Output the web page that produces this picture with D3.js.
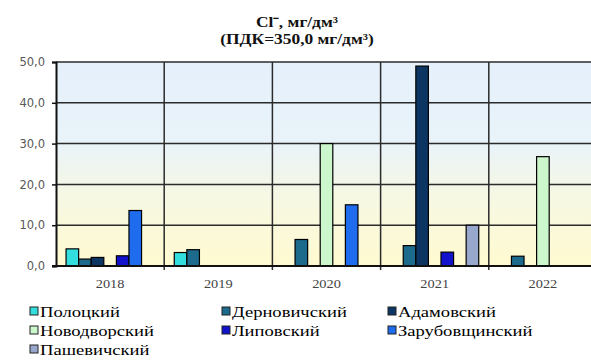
<!DOCTYPE html>
<html>
<head>
<meta charset="utf-8">
<script src="https://cdn.jsdelivr.net/npm/d3@7/dist/d3.min.js"></script>
<style>
  html, body { margin: 0; padding: 0; background: #ffffff; }
  svg { display: block; }
</style>
</head>
<body>
<svg id="chart" width="591" height="363"></svg>
<script>
// Chloride concentration by monitoring site, mg/dm³
const years = ["2018", "2019", "2020", "2021", "2022"];
const seriesNames = ["Полоцкий", "Дерновичский", "Адамовский", "Новодворский", "Липовский", "Зарубовщинский", "Пашевичский"];
const polotsky      = [4.2, 3.3, null, null, null];
const dernovichsky  = [1.7, 4.0, 6.5, 5.0, 2.4];
const adamovsky     = [2.1, null, null, 49.0, null];
const novodvorsky   = [null, null, 30.0, null, 26.8];
const lipovsky      = [2.5, null, null, 3.4, null];
const zarubovshchinsky = [13.6, null, 15.0, null, null];
const pashevichsky  = [null, null, null, 10.0, null];
const yTicks = [0, 10, 20, 30, 40, 50];
const titleLines = ["Cl⁻, мг/дм³", "(ПДК=350,0 мг/дм³)"];

const seriesValues = [polotsky, dernovichsky, adamovsky, novodvorsky, lipovsky, zarubovshchinsky, pashevichsky];
const colors = ["#33dede", "#1d6b8c", "#0c3563", "#ccf7cc", "#1212cc", "#1f6cef", "#98a8cc"];

const svg = d3.select("#chart");

// text is drawn slightly wide, as in the original layout
function wideText(sel, x, y, sx) {
  return sel.attr("transform", `translate(${x},${y}) scale(${sx},1)`);
}

const plot = { left: 56, top: 62, right: 597, bottom: 266 };

const x = d3.scaleBand().domain(years).range([plot.left, plot.right]);
const xs = d3.scaleBand().domain(seriesNames).range([0, x.bandwidth()]).paddingOuter(0.8).paddingInner(0);
const y = d3.scaleLinear().domain([0, 50]).range([plot.bottom, plot.top]);

// plot background: pale blue at the top fading to pale yellow at the base
const defs = svg.append("defs");
const grad = defs.append("linearGradient").attr("id", "bg").attr("x1", 0).attr("y1", 0).attr("x2", 0).attr("y2", 1);
grad.append("stop").attr("offset", "0%").attr("stop-color", "#e5f0fc");
grad.append("stop").attr("offset", "40%").attr("stop-color", "#e9f3f9");
grad.append("stop").attr("offset", "65%").attr("stop-color", "#f6f8e4");
grad.append("stop").attr("offset", "100%").attr("stop-color", "#fffad0");

svg.append("rect")
  .attr("x", plot.left).attr("y", plot.top)
  .attr("width", plot.right - plot.left).attr("height", plot.bottom - plot.top)
  .attr("fill", "url(#bg)");

// horizontal gridlines
svg.append("g").selectAll("line").data(yTicks.filter(d => d > 0)).join("line")
  .attr("x1", plot.left).attr("x2", plot.right)
  .attr("y1", d => y(d)).attr("y2", d => y(d))
  .attr("stroke", "#2b2b2b").attr("stroke-width", 1.5);

// vertical gridlines between categories (extend below the axis as ticks)
svg.append("g").selectAll("line").data(years.slice(1)).join("line")
  .attr("x1", d => x(d)).attr("x2", d => x(d))
  .attr("y1", plot.top).attr("y2", plot.bottom + 4)
  .attr("stroke", "#2b2b2b").attr("stroke-width", 1.5);

// bars
const groups = svg.append("g").selectAll("g").data(years).join("g")
  .attr("transform", d => `translate(${x(d)},0)`);
groups.selectAll("rect")
  .data((yr, i) => seriesNames.map((s, j) => ({ s, j, v: seriesValues[j][i] })).filter(d => d.v != null))
  .join("rect")
  .attr("x", d => xs(d.s))
  .attr("width", xs.bandwidth())
  .attr("y", d => y(d.v))
  .attr("height", d => y(0) - y(d.v))
  .attr("fill", d => colors[d.j])
  .attr("stroke", "#000")
  .attr("stroke-width", 1.2);

// y axis
const yAxis = d3.axisLeft(y).tickValues(yTicks).tickSize(4).tickFormat(d => d3.format(".1f")(d).replace(".", ","));
const yg = svg.append("g").attr("transform", `translate(${plot.left},0)`).call(yAxis);
yg.select(".domain").attr("stroke", "#111").attr("stroke-width", 2);
yg.selectAll(".tick line").attr("stroke", "#111").attr("stroke-width", 1.5);
yg.selectAll(".tick text")
  .attr("x", -11)
  .attr("font-family", "DejaVu Sans, sans-serif").attr("font-size", 11.5)
  .attr("fill", "#585858");

// x axis baseline
svg.append("line")
  .attr("x1", plot.left - 4).attr("x2", plot.right)
  .attr("y1", y(0)).attr("y2", y(0))
  .attr("stroke", "#111").attr("stroke-width", 2);

// category labels
svg.append("g").selectAll("text").data(years).join("text")
  .each(function (d) { wideText(d3.select(this), x(d) + x.bandwidth() / 2, 288, 1.15); })
  .attr("text-anchor", "middle")
  .attr("font-family", "Liberation Serif, Times New Roman, serif").attr("font-size", 12.5)
  .attr("fill", "#444")
  .text(d => d);

// title
svg.append("g").selectAll("text").data(titleLines).join("text")
  .each(function (d, i) { wideText(d3.select(this), 297, 27 + i * 17, 1.2); })
  .attr("text-anchor", "middle")
  .attr("font-family", "Liberation Serif, Times New Roman, serif").attr("font-weight", "bold")
  .attr("font-size", 14.5).attr("fill", "#111")
  .text(d => d);

// legend: three columns
const legCols = [30, 222, 388];
const legRows = [312, 331, 350];
const leg = svg.append("g").selectAll("g").data(seriesNames).join("g")
  .attr("transform", (d, i) => `translate(${legCols[i % 3]},${legRows[Math.floor(i / 3)]})`);
leg.append("rect")
  .attr("x", 0).attr("y", -5).attr("width", 8).attr("height", 8)
  .attr("fill", (d, i) => colors[i]).attr("stroke", "#222").attr("stroke-width", 1);
leg.append("text")
  .each(function () { wideText(d3.select(this), 10, 5, 1.24); })
  .attr("font-family", "Liberation Serif, Times New Roman, serif").attr("font-size", 15)
  .attr("fill", "#000")
  .text(d => d);
</script>
</body>
</html>
